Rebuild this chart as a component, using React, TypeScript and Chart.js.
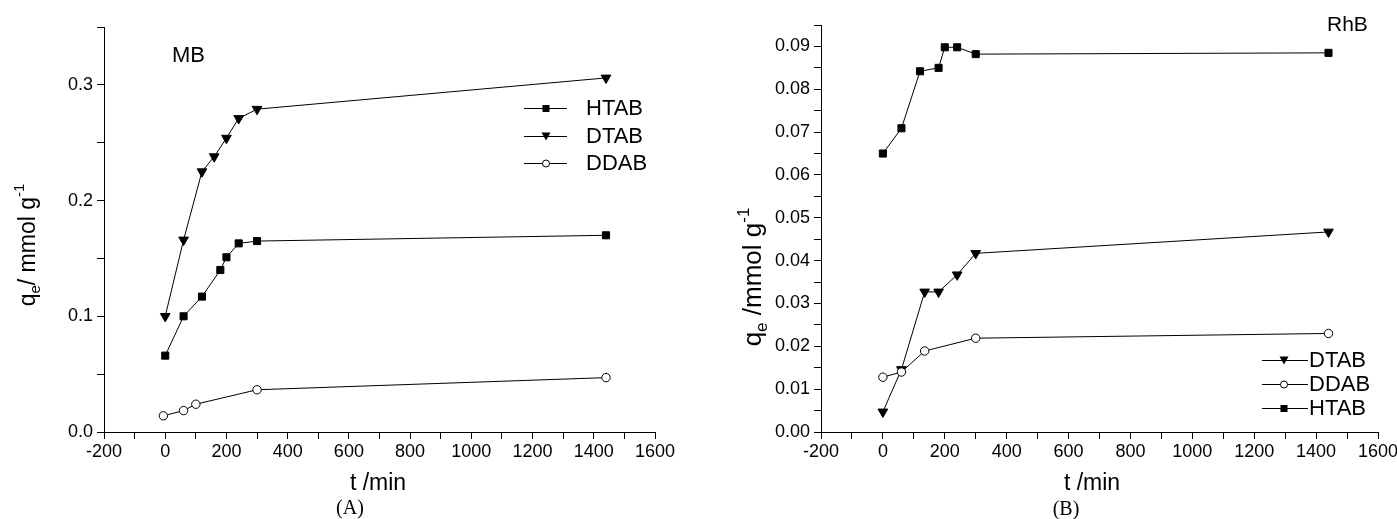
import React, { useEffect, useRef } from 'react';
import { Chart, registerables } from 'chart.js';

Chart.register(...registerables);

const SANS = '"Liberation Sans", Arial, Helvetica, sans-serif';
const SERIF = '"Liberation Serif", "Times New Roman", serif';

// ---------- Panel A : MB ----------
const mbHtabT = [0, 60, 120, 180, 200, 240, 300, 1440];
const mbHtabQ = [0.066, 0.1, 0.117, 0.14, 0.151, 0.163, 0.165, 0.17];
const mbDtabT = [0, 60, 120, 160, 200, 240, 300, 1440];
const mbDtabQ = [0.1, 0.166, 0.225, 0.238, 0.254, 0.271, 0.279, 0.306];
const mbDdabT = [-6, 60, 100, 300, 1440];
const mbDdabQ = [0.014, 0.0185, 0.024, 0.0365, 0.047];

// ---------- Panel B : RhB ----------
const rhHtabT = [0, 60, 120, 180, 200, 240, 300, 1440];
const rhHtabQ = [0.065, 0.0709, 0.0842, 0.085, 0.0898, 0.0898, 0.0882, 0.0885];
const rhDtabT = [0, 60, 135, 180, 240, 300, 1440];
const rhDtabQ = [0.0047, 0.0146, 0.0327, 0.0327, 0.0367, 0.0417, 0.0467];
const rhDdabT = [0, 60, 135, 300, 1440];
const rhDdabQ = [0.0128, 0.014, 0.0189, 0.0219, 0.023];

// ---------- axes ----------
const tMin = -200;
const tMax = 1600;
const tStep = 100;
const tLabelStep = 200;
const mbQMax = 0.35;
const mbQStep = 0.05;
const rhQMax = 0.095;
const rhQStep = 0.005;

const legendA = ['HTAB', 'DTAB', 'DDAB'];
const legendB = ['DTAB', 'DDAB', 'HTAB'];

type Style = 'rect' | 'triangle' | 'circle';

const styleOf: Record<string, Style> = { HTAB: 'rect', DTAB: 'triangle', DDAB: 'circle' };

function dataset(label: string, t: number[], q: number[], order: number) {
  const style = styleOf[label];
  const base: any = {
    label,
    data: t.map((x, i) => ({ x, y: q[i] })),
    showLine: true,
    tension: 0,
    borderColor: '#000',
    borderWidth: 1,
    pointBorderColor: '#000',
    pointBorderWidth: 1,
    order,
  };
  if (style === 'rect') {
    base.pointStyle = 'rect';
    base.pointRadius = 5;
    base.pointBackgroundColor = '#000';
  } else if (style === 'triangle') {
    base.pointStyle = 'triangle';
    base.pointRotation = 180;
    base.pointRadius = 5.6;
    base.pointBackgroundColor = '#000';
  } else {
    base.pointStyle = 'circle';
    base.pointRadius = 4.2;
    base.pointBackgroundColor = '#fff';
  }
  base.pointHoverRadius = base.pointRadius;
  return base;
}

function drawMarker(ctx: CanvasRenderingContext2D, style: Style, x: number, y: number, size: number) {
  ctx.save();
  ctx.fillStyle = '#000';
  ctx.strokeStyle = '#000';
  ctx.lineWidth = 1;
  if (style === 'rect') {
    ctx.fillRect(x - size / 2, y - size / 2, size, size);
  } else if (style === 'triangle') {
    const h = (size * Math.sqrt(3)) / 2;
    ctx.beginPath();
    ctx.moveTo(x - size / 2, y - h / 2);
    ctx.lineTo(x + size / 2, y - h / 2);
    ctx.lineTo(x, y + h / 2);
    ctx.closePath();
    ctx.fill();
  } else {
    ctx.beginPath();
    ctx.arc(x, y, size / 2, 0, Math.PI * 2);
    ctx.fillStyle = '#fff';
    ctx.fill();
    ctx.stroke();
  }
  ctx.restore();
}

type Part = { text: string; mode?: 'sub' | 'sup' };

function drawVerticalTitle(ctx: CanvasRenderingContext2D, parts: Part[], baseX: number, cy: number, size: number) {
  ctx.save();
  ctx.translate(baseX, cy);
  ctx.rotate(-Math.PI / 2);
  ctx.fillStyle = '#000';
  ctx.textBaseline = 'alphabetic';
  ctx.textAlign = 'left';
  const fontFor = (p: Part) => `${p.mode ? Math.round(size * 0.65) : size}px ${SANS}`;
  let total = 0;
  for (const p of parts) {
    ctx.font = fontFor(p);
    total += ctx.measureText(p.text).width;
  }
  let x = -total / 2;
  for (const p of parts) {
    ctx.font = fontFor(p);
    const dy = p.mode === 'sub' ? size * 0.22 : p.mode === 'sup' ? -size * 0.48 : 0;
    ctx.fillText(p.text, x, dy);
    x += ctx.measureText(p.text).width;
  }
  ctx.restore();
}

type Annot = {
  yTitle: Part[];
  yTitleX: number;
  yTitleY: number;
  yTitleSize: number;
  xTitleX: number;
  xTitleY: number;
  panel: string;
  panelX: number;
  panelY: number;
  dye: string;
  dyeX: number;
  dyeY: number;
  dyeSize: number;
  legend: string[];
  legRows: number[];
  legLine: [number, number];
  legMarkX: number;
  legTextX: number;
};

function annotationPlugin(a: Annot) {
  return {
    id: 'annot',
    afterDraw(chart: any) {
      const ctx: CanvasRenderingContext2D = chart.ctx;
      ctx.save();
      drawVerticalTitle(ctx, a.yTitle, a.yTitleX, a.yTitleY, a.yTitleSize);
      ctx.fillStyle = '#000';
      ctx.font = `23px ${SANS}`;
      ctx.textAlign = 'center';
      ctx.textBaseline = 'alphabetic';
      ctx.fillText('t /min', a.xTitleX, a.xTitleY);
      ctx.font = `20px ${SERIF}`;
      ctx.fillText(a.panel, a.panelX, a.panelY);
      ctx.font = `${a.dyeSize}px ${SANS}`;
      ctx.textAlign = 'left';
      ctx.fillText(a.dye, a.dyeX, a.dyeY);
      // legend
      ctx.font = `22px ${SANS}`;
      ctx.textBaseline = 'middle';
      a.legend.forEach((name, i) => {
        const y = a.legRows[i];
        ctx.strokeStyle = '#000';
        ctx.lineWidth = 1;
        ctx.beginPath();
        ctx.moveTo(a.legLine[0], y + 0.5);
        ctx.lineTo(a.legLine[1], y + 0.5);
        ctx.stroke();
        const st = styleOf[name];
        drawMarker(ctx, st, a.legMarkX, y + 0.5, st === 'triangle' ? 9 : 7);
        ctx.fillStyle = '#000';
        ctx.fillText(name, a.legTextX, y + 1);
      });
      ctx.restore();
    },
  };
}

function makeConfig(
  datasets: any[],
  qMax: number,
  qStep: number,
  dec: number,
  yWidth: number,
  padTop: number,
  padRight: number,
  a: Annot
): any {
  return {
    type: 'scatter',
    data: { datasets },
    options: {
      animation: false,
      responsive: false,
      events: [],
      layout: { padding: { left: 0, top: padTop, right: padRight, bottom: 0 } },
      plugins: { legend: { display: false }, tooltip: { enabled: false } },
      scales: {
        x: {
          type: 'linear',
          min: tMin,
          max: tMax,
          ticks: {
            stepSize: tStep,
            autoSkip: false,
            maxRotation: 0,
            padding: 2,
            color: '#000',
            font: { family: SANS, size: 18 },
            callback: (v: number) => (Math.round(v) % tLabelStep === 0 ? String(Math.round(v)) : ''),
          },
          grid: { drawOnChartArea: false, drawTicks: true, tickLength: 7, color: '#000', lineWidth: 1 },
          border: { display: true, color: '#000', width: 1 },
          afterFit: (s: any) => {
            s.height = 519 - 432;
            s.paddingLeft = 0;
            s.paddingRight = 0;
          },
        },
        y: {
          type: 'linear',
          min: 0,
          max: qMax,
          ticks: {
            stepSize: qStep,
            autoSkip: false,
            padding: 4,
            color: '#000',
            font: { family: SANS, size: 18 },
            callback: (v: number) => {
              const k = Math.round(v / qStep);
              return k % 2 === 0 ? (k * qStep).toFixed(dec) : '';
            },
          },
          grid: { drawOnChartArea: false, drawTicks: true, tickLength: 7, color: '#000', lineWidth: 1 },
          border: { display: true, color: '#000', width: 1 },
          afterFit: (s: any) => {
            s.width = yWidth;
            s.paddingTop = 0;
            s.paddingBottom = 0;
          },
        },
      },
    },
    plugins: [annotationPlugin(a)],
  };
}

const annotA: Annot = {
  yTitle: [{ text: 'q' }, { text: 'e', mode: 'sub' }, { text: '/ mmol g' }, { text: '-1', mode: 'sup' }],
  yTitleX: 35,
  yTitleY: 245,
  yTitleSize: 23,
  xTitleX: 378,
  xTitleY: 490,
  panel: '(A)',
  panelX: 350,
  panelY: 514,
  dye: 'MB',
  dyeX: 172,
  dyeY: 62,
  dyeSize: 22,
  legend: legendA,
  legRows: [108, 136, 163],
  legLine: [524, 567],
  legMarkX: 546,
  legTextX: 586,
};

const annotB: Annot = {
  yTitle: [{ text: 'q' }, { text: 'e', mode: 'sub' }, { text: ' /mmol g' }, { text: '-1', mode: 'sup' }],
  yTitleX: 61,
  yTitleY: 277,
  yTitleSize: 26,
  xTitleX: 392,
  xTitleY: 490,
  panel: '(B)',
  panelX: 366,
  panelY: 515,
  dye: 'RhB',
  dyeX: 627,
  dyeY: 31,
  dyeSize: 21,
  legend: legendB,
  legRows: [360, 384, 408],
  legLine: [562, 608],
  legMarkX: 584,
  legTextX: 609,
};

function Panel({ make, left, width }: { make: () => any; left: number; width: number }) {
  const ref = useRef<HTMLCanvasElement>(null);
  useEffect(() => {
    const chart = new Chart(ref.current as HTMLCanvasElement, make());
    return () => chart.destroy();
  }, []);
  return (
    <canvas
      ref={ref}
      width={width}
      height={519}
      style={{ position: 'absolute', left, top: 0, width, height: 519, display: 'block' }}
    />
  );
}

export default function App() {
  const makeA = () =>
    makeConfig(
      [
        dataset('DDAB', mbDdabT, mbDdabQ, 3),
        dataset('HTAB', mbHtabT, mbHtabQ, 2),
        dataset('DTAB', mbDtabT, mbDtabQ, 1),
      ],
      mbQMax,
      mbQStep,
      1,
      104,
      27,
      45,
      annotA
    );
  const makeB = () =>
    makeConfig(
      [
        dataset('HTAB', rhHtabT, rhHtabQ, 3),
        dataset('DTAB', rhDtabT, rhDtabQ, 2),
        dataset('DDAB', rhDdabT, rhDdabQ, 1),
      ],
      rhQMax,
      rhQStep,
      2,
      121,
      25,
      19,
      annotB
    );
  return (
    <div style={{ position: 'absolute', left: 0, top: 0, width: 1397, height: 519, background: '#fff', overflow: 'hidden' }}>
      <Panel make={makeA} left={0} width={700} />
      <Panel make={makeB} left={700} width={697} />
    </div>
  );
}
